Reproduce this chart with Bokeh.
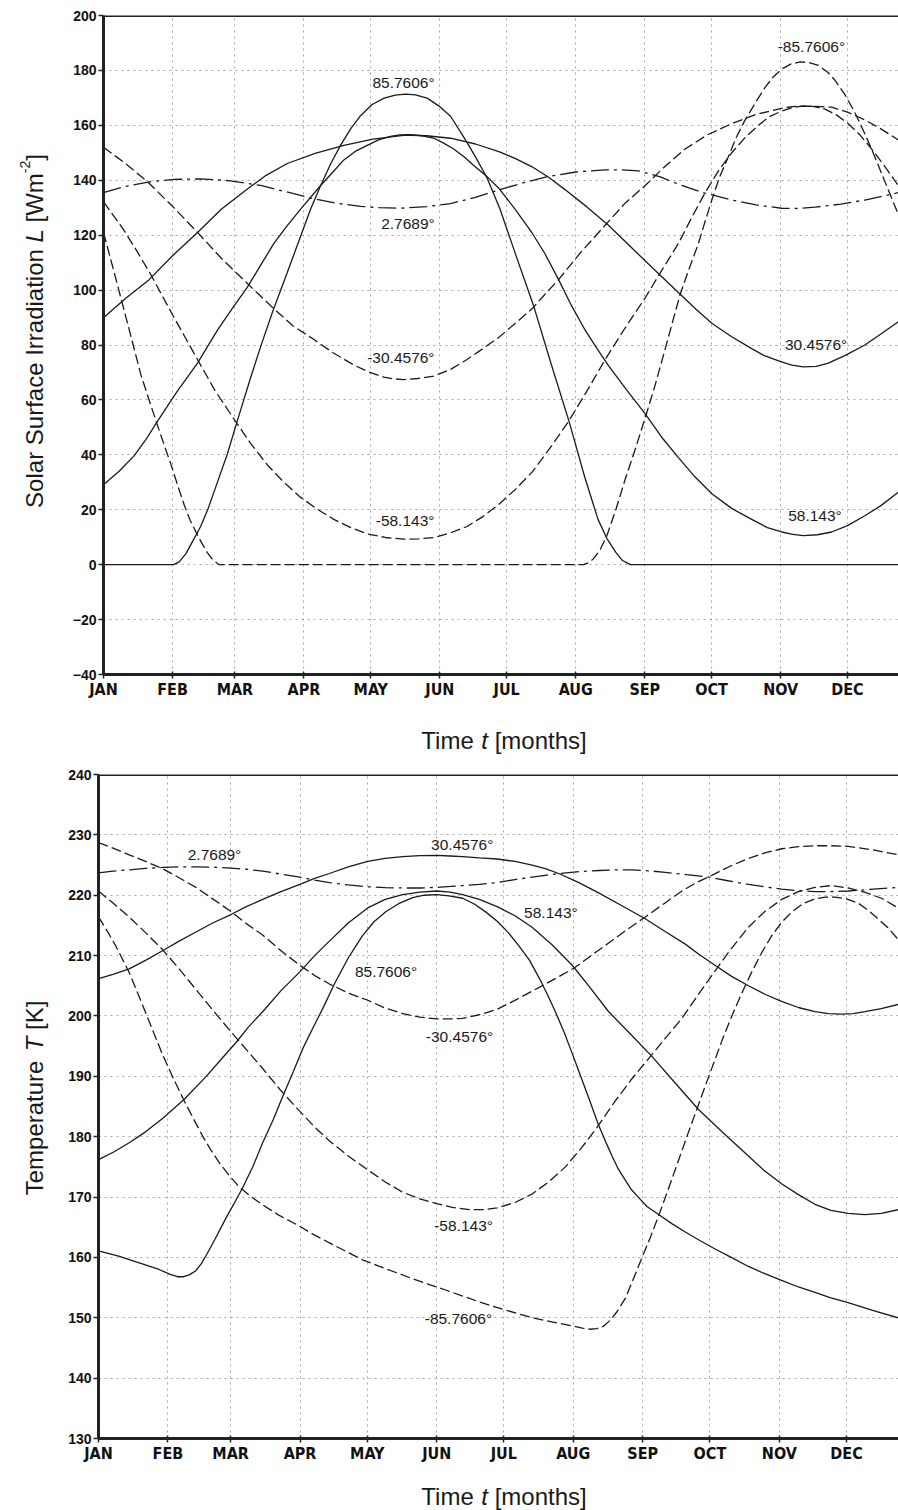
import math
from bokeh.plotting import figure
from bokeh.layouts import column, row
from bokeh.models import Range1d, FixedTicker, Label, Span
from bokeh.embed import file_html
from bokeh.resources import INLINE

# ---------------- data ----------------
MONTH_TICKS = [0, 31, 59, 90, 120, 151, 181, 212, 243, 273, 304, 334]
MONTH_LABELS = ["JAN", "FEB", "MAR", "APR", "MAY", "JUN",
                "JUL", "AUG", "SEP", "OCT", "NOV", "DEC"]
L_TICKS = [-40, -20, 0, 20, 40, 60, 80, 100, 120, 140, 160, 180, 200]
T_TICKS = [130, 140, 150, 160, 170, 180, 190, 200, 210, 220, 230, 240]

# ---- Solar surface irradiation (W m^-2) vs day of year ----
L_N86_day = [0, 31.5, 34, 37, 40, 43.6, 47, 51, 55.6, 60, 66, 71, 76, 82.5, 88.5, 93, 97.5, 102,
             106.4, 111, 115.4, 120.6, 126, 131, 135.6, 140, 145.3, 150.5, 155.8, 162.5, 167, 172.2,
             178, 185, 193, 201, 209, 216, 222, 226, 230, 233, 236.5, 357]
L_N86_val = [0, 0, 1, 4, 8.5, 13.9, 20.5, 29.7, 40.3, 52.2, 68, 80.5, 92.3, 106.4, 119.6, 129.5,
             138.1, 146, 152.7, 158.8, 163.5, 167.6, 169.9, 171.0, 171.4, 171.1, 169.9, 167.1, 163.3,
             154.7, 148.5, 140.8, 129.5, 113, 94.5, 73, 52.2, 32, 16.5, 9.5, 4.5, 1.5, 0, 0]

L_N58_day = [0, 7, 13.8, 19, 24.2, 33, 42.2, 51.1, 58, 64.6, 70.5, 76.5, 82.5, 88.5, 97.5, 103, 107.9,
             113, 118.4, 123.5, 128.8, 133, 137.8, 143, 148.3, 152.5, 157.2, 162, 166.2, 172, 177.8,
             185, 192.4, 198, 204.3, 210, 216.3, 221.5, 226.7, 235, 243.2, 250.5, 258.1, 265.5, 273.1,
             282, 291, 298, 304.5, 309.5, 314.2, 320.5, 326.9, 334, 341.8, 349, 356.8]
L_N58_val = [29.1, 34, 39.7, 45.5, 52.2, 63, 73.4, 85.3, 93.5, 101.1, 109, 117.0, 123.5, 129.5, 138.1,
             143, 147.4, 150.5, 152.7, 154.7, 156.0, 156.5, 156.6, 156.2, 155.3, 153.6, 151.4, 148.5,
             145.4, 141.5, 136.8, 129.2, 120.8, 113.5, 103.8, 94.5, 85.3, 78.8, 72.5, 63.5, 54.9, 46.5,
             39.0, 32, 25.8, 20.5, 16.5, 13.5, 11.9, 11, 10.6, 10.9, 11.9, 14.2, 17.8, 21.5, 26.4]

L_N30_day = [0, 10, 20.5, 31, 42.2, 53, 64.6, 73, 82.5, 95, 107.9, 121, 135.6, 145, 155.8, 167, 177.8,
             185, 192.4, 200, 207.3, 217, 226.7, 237, 247.7, 258.9, 266, 273.1, 282, 291, 297, 303.7,
             309, 314.2, 320, 325.4, 333, 341.8, 349, 356.8]
L_N30_val = [89.9, 97, 103.8, 112.5, 121.0, 129.5, 136.8, 141.8, 146.1, 149.8, 152.7, 155, 156.4,
             156.2, 155.3, 153.2, 150.3, 147.9, 144.9, 141.0, 136.5, 130.3, 123.6, 115.5, 107.1, 98.5,
             93, 87.9, 83, 78.7, 76, 74.0, 72.7, 72.0, 72.2, 73.4, 76.2, 80.0, 84, 88.5]

L_EQ_day = [0, 10, 21.3, 32, 43.6, 57, 70.5, 82, 93, 104, 115.4, 124, 133.3, 145, 155.8, 167, 177.6,
            189, 199.8, 212, 225.2, 233, 240.2, 250, 259.6, 270, 282, 293, 304.5, 312, 319.4, 331,
            341.8, 350, 356.8]
L_EQ_val = [135.5, 137.8, 139.5, 140.3, 140.5, 139.8, 138.1, 135.8, 133.5, 131.7, 130.5, 130, 129.8,
            130.4, 131.5, 133.8, 136.5, 139.2, 141.4, 143, 143.8, 143.8, 143.4, 141.2, 138.1, 135.3,
            132.8, 131, 129.8, 129.7, 130.2, 131.3, 132.8, 134.2, 135.5]

L_S30_day = [0, 10, 19.7, 31, 42.2, 53, 64.6, 76.5, 85, 94.5, 103, 112.4, 119, 125.9, 130, 134.8,
             141, 148.3, 156, 163.2, 170, 177.8, 185, 192.4, 198, 204.3, 214, 225.2, 234, 243.2, 252,
             261.1, 271, 282, 293, 304.5, 309, 314.2, 320, 326.9, 334, 341.8, 349, 356.8]
L_S30_val = [152.0, 146, 139.5, 130.5, 121.0, 111.5, 102.4, 93.2, 87, 82.0, 77.2, 72.7, 70.2, 68.3,
             67.7, 67.4, 67.8, 68.7, 71.2, 74.7, 78.5, 83.0, 88, 93.2, 98.3, 103.8, 113.5, 123.6,
             131.5, 138.1, 145, 151.4, 156.5, 160.6, 164, 166.2, 166.8, 167.0, 166.9, 166.6, 164.8,
             162.0, 158.7, 154.7]

L_S58_day = [0, 9, 15, 21, 26, 31, 36.5, 42, 50, 58.6, 66, 73.5, 81, 88.5, 96, 103.4, 111, 118.4,
             126.5, 134.8, 141.5, 148.3, 155.5, 163.2, 170.5, 177.8, 185, 192.4, 200.5, 208.8, 217,
             225.2, 234, 243.2, 250.5, 258.1, 264, 270.1, 276, 282, 288, 294, 299, 304.5, 309, 313.4,
             318.5, 323.9, 329, 334.4, 339.5, 344.8, 350.8, 356.8]
L_S58_val = [132.2, 122.0, 114.2, 106.0, 98.5, 91.0, 83, 75.0, 63.5, 53.0, 44.2, 36.4, 30, 24.5, 20.2,
             16.5, 13.5, 11.2, 9.9, 9.3, 9.4, 9.9, 11.5, 13.9, 17.6, 22.2, 27.5, 33.7, 42.5, 52.2,
             63.2, 74.7, 86, 97.2, 107, 117.0, 126.3, 135.5, 143.3, 150.0, 155.5, 160.0, 163.2, 165.2,
             166.4, 167.0, 166.9, 165.9, 163.8, 160.6, 156.6, 151.4, 145, 138.1]

L_S86_day = [0, 4.8, 10.8, 16.7, 20.5, 24.2, 27.5, 30.9, 33.5, 36.2, 39, 42.2, 44.5, 46.6, 49, 51.9,
             215.5, 218, 220, 223, 226, 230, 234.2, 238.5, 243.2, 247.5, 252.2, 255.5, 258.9, 263,
             267.1, 270, 273.1, 276.5, 280.6, 284, 288, 292.5, 297, 300.5, 304.5, 308.5, 312.7, 316.5,
             321, 325, 328.4, 333, 337.4, 341, 344.8, 347.8, 350.8, 353.8, 356.8]
L_S86_val = [121.0, 106.4, 87.9, 69.4, 59.9, 50.8, 43, 35.0, 28.4, 21.8, 16, 10.8, 7.3, 4.4, 1.8, 0,
             0, 0.8, 2.2, 5.5, 10.6, 20, 31.1, 41.5, 53.5, 65, 78.7, 88.5, 98.5, 108, 117.0, 124.8,
             132.8, 141, 148.7, 155.5, 161.9, 168, 173.8, 177.5, 180.5, 182.3, 183.1, 182.9, 181.8,
             179.4, 176.4, 171, 164.5, 158.3, 151.4, 145.5, 139.5, 133.5, 127.6]

# ---- Temperature (K) vs day of year ----
T_N86_day = [0, 9, 18.2, 27, 32, 35.3, 38, 40.5, 43.5, 46, 48.5, 52, 56.9, 60.5, 64.3, 69, 73.3, 78,
             82.2, 87, 91.1, 96, 100.5, 105.3, 111.5, 117.9, 123, 128.4, 134, 140.3, 145.5, 151.0,
             156.5, 162.6, 168, 173, 178, 183, 187.7, 192.5, 196.6, 200.5, 204.0, 208, 211.5, 215,
             218.9, 223.3, 226.5, 229.3, 232, 235.2, 238, 241.2, 245, 250.1, 256, 262.0, 268.5, 275.3,
             282.5, 290.2, 297.5, 305.0, 312.5, 319.9, 327, 334.7, 346, 357]
T_N86_val = [161.1, 160.2, 159.1, 158, 157.2, 156.8, 156.8, 157.1, 157.8, 159, 160.6, 163, 166.5,
             168.9, 171.5, 175.1, 179.0, 182.8, 186.6, 190.8, 194.5, 198.2, 201.5, 205.3, 209.6, 213.3,
             215.6, 217.3, 218.6, 219.6, 220, 220.1, 219.9, 219.5, 218.5, 217.2, 215.7, 213.8, 211.6,
             209.2, 206.4, 203.5, 200.7, 197.2, 193.8, 190.3, 186.4, 181.9, 179.1, 176.8, 174.7, 172.8,
             171.2, 169.9, 168.4, 167.1, 165.6, 164.2, 162.8, 161.4, 160, 158.5, 157.3, 156.2, 155.1,
             154.2, 153.3, 152.5, 151.2, 150.0]

T_N58_day = [0, 7, 13.7, 21, 28.6, 38.3, 47.9, 54.5, 61.4, 67, 73.3, 81.5, 89.9, 96.5, 103.1, 111.5,
             120.2, 128, 135.8, 143.5, 151.0, 157, 162.6, 170, 178, 186, 193.6, 202.5, 211.5, 219.5,
             227.8, 237.5, 247.1, 257.5, 267.9, 279, 290.2, 297.5, 305.0, 312.5, 319.9, 327, 334.7,
             342.2, 349.5, 357.0]
T_N58_val = [176.2, 177.5, 179.0, 180.8, 183.0, 186.2, 189.9, 192.7, 195.6, 198.2, 200.7, 204.2, 207.3,
             210, 212.4, 215.4, 217.9, 219.3, 220.1, 220.5, 220.7, 220.5, 220.1, 219.3, 218.1, 216.6,
             214.7, 211.8, 208.4, 204.7, 200.7, 197.0, 193.3, 188.9, 184.5, 180.6, 176.8, 174.3, 172.2,
             170.4, 168.8, 167.8, 167.3, 167.1, 167.3, 167.9]

T_N30_day = [0, 6.5, 13.7, 21, 28.6, 36, 43.5, 51, 59.1, 66, 73.3, 81.5, 89.9, 96.5, 103.1, 111.5,
             120.2, 128, 135.8, 143.5, 151.0, 157, 162.6, 170, 178, 186, 193.6, 199.5, 205.5, 214.5,
             223.3, 233.5, 244.1, 253, 262.0, 268.5, 275.3, 282.5, 290.2, 297.5, 305.0, 312.5, 319.9,
             326, 331.8, 337, 342.2, 349.5, 357.0]
T_N30_val = [206.2, 206.9, 207.8, 209.2, 210.8, 212.4, 213.9, 215.4, 216.8, 218.1, 219.3, 220.6, 221.8,
             222.8, 223.6, 224.7, 225.6, 226.1, 226.4, 226.55, 226.6, 226.5, 226.4, 226.2, 226.0,
             225.6, 225.0, 224.4, 223.6, 222.1, 220.4, 218.3, 216.1, 214.0, 211.9, 210.1, 208.4, 206.6,
             205.0, 203.6, 202.4, 201.4, 200.7, 200.4, 200.3, 200.4, 200.7, 201.2, 201.9]

T_EQ_day = [0, 6.5, 13.7, 21, 28.6, 36, 43.5, 51, 59.1, 66, 73.3, 81.5, 89.9, 96.5, 103.1, 111.5,
            120.2, 128, 135.8, 143.5, 151.0, 157, 162.6, 170, 178, 186, 193.6, 199.5, 205.5, 214.5,
            223.3, 230.5, 238.2, 245.5, 253.0, 262.5, 272.4, 281, 290.2, 297.5, 305.0, 312.5, 319.9,
            327, 334.7, 346, 357.0]
T_EQ_val = [223.7, 224.0, 224.2, 224.45, 224.6, 224.7, 224.7, 224.65, 224.5, 224.3, 224.0, 223.5,
            223.0, 222.5, 222.1, 221.7, 221.4, 221.25, 221.2, 221.2, 221.3, 221.45, 221.6, 221.8,
            222.1, 222.6, 223.0, 223.3, 223.6, 223.9, 224.1, 224.2, 224.2, 224.05, 223.8, 223.4,
            223.0, 222.4, 221.8, 221.4, 221.0, 220.75, 220.6, 220.6, 220.7, 221.0, 221.3]

T_S30_day = [0, 6.5, 13.7, 21, 28.6, 36, 43.5, 51, 59.1, 66, 73.3, 81.5, 89.9, 96.5, 103.1, 111.5,
             120.2, 128, 135.8, 143.5, 151.0, 157, 162.6, 170, 178, 187, 196.6, 204.5, 212.2, 220,
             227.8, 236, 244.1, 252.5, 260.5, 267, 273.8, 282, 290.2, 297.5, 305.0, 312.5, 319.9,
             327, 334.7, 346, 357.0]
T_S30_val = [228.7, 227.8, 226.7, 225.6, 224.4, 222.9, 221.3, 219.4, 217.3, 215.3, 213.4, 210.8,
             208.4, 206.7, 205.3, 203.8, 202.6, 201.3, 200.4, 199.8, 199.5, 199.5, 199.6, 200.2,
             201.1, 202.8, 204.7, 206.3, 207.9, 210, 212.1, 214.3, 216.4, 218.6, 220.7, 222.1, 223.3,
             224.8, 226.1, 227.0, 227.7, 228.05, 228.2, 228.2, 228.1, 227.5, 226.7]

T_S58_day = [0, 6.5, 13.7, 21, 28.6, 36, 43.5, 52.5, 61.4, 67.5, 73.3, 81.5, 89.9, 96.5, 103.1, 111.5,
             120.2, 128, 135.8, 143.5, 151.0, 158, 165.6, 171.5, 178, 186, 193.6, 201, 208.5, 216,
             223.3, 230.5, 238.2, 247.1, 253.5, 260.5, 267, 273.8, 282, 290.2, 297.5, 305.0, 312.5,
             319.9, 327.3, 334.7, 342, 349.6, 357.0]
T_S58_val = [220.7, 218.7, 216.4, 213.8, 211.0, 207.8, 204.4, 200.3, 196.4, 193.8, 191.3, 187.6,
             184.2, 181.6, 179.3, 176.8, 174.5, 172.5, 170.8, 169.7, 168.9, 168.3, 167.9, 167.9,
             168.2, 169.1, 170.5, 172.5, 175.0, 178.3, 181.9, 185.8, 189.6, 193.6, 196.5, 199.6,
             203.1, 206.7, 210.9, 214.7, 217.3, 219.3, 220.6, 221.3, 221.6, 221.2, 220.5, 219.5, 217.9]

T_S86_day = [0, 4, 7.7, 13.7, 17.5, 21.1, 25, 28.6, 33.5, 38.3, 42.5, 46.5, 50, 53.9, 58.5, 62.8, 68,
             73.3, 80.5, 88.2, 95.5, 103.1, 110.5, 117.9, 125.5, 132.8, 140, 147.7, 155, 162.6, 171,
             179.7, 188, 196, 204, 212, 216, 219.5, 222.5, 225.5, 228.5, 231.5, 235.2, 239, 242.6,
             246.5, 250.8, 255, 259, 263, 267.2, 271.5, 275.3, 279, 282.8, 287, 291.7, 296, 300.6, 305,
             309.5, 314.5, 319.9, 324.5, 328.8, 334, 339.2, 344, 348.1, 352.5, 357]
T_S86_val = [216.4, 214.0, 211.6, 207.2, 203.8, 200.5, 196.9, 193.6, 189.6, 185.9, 182.9, 180.1,
             177.9, 175.7, 173.5, 171.7, 170.1, 168.7, 167.0, 165.5, 163.9, 162.4, 161, 159.6, 158.5,
             157.5, 156.5, 155.5, 154.6, 153.6, 152.5, 151.5, 150.6, 149.8, 149.2, 148.6, 148.3,
             148.1, 148.2, 148.6, 149.6, 151.0, 153.2, 156.6, 159.9, 163.4, 167.6, 171.9, 176.1,
             180.3, 184.6, 189, 192.8, 196.5, 200.0, 203.6, 207.3, 210.4, 213.3, 215.5, 217.2, 218.6,
             219.4, 219.7, 219.7, 219.4, 218.7, 217.4, 216.1, 214.6, 212.7]

# curve annotations: (text, day, value)
L_NOTES = [("85.7606°", 134.7, 175.5), ("2.7689°", 136.7, 124.2), ("-30.4576°", 133.5, 75.3),
           ("-58.143°", 135.4, 16.0), ("-85.7606°", 317.8, 188.8), ("30.4576°", 319.9, 80.2),
           ("58.143°", 319.4, 17.8)]
T_NOTES = [("2.7689°", 51.8, 226.7), ("30.4576°", 162.4, 228.4), ("85.7606°", 128.4, 207.3),
           ("-30.4576°", 161.2, 196.6), ("-58.143°", 163.0, 165.3), ("58.143°", 202.0, 217.1),
           ("-85.7606°", 160.7, 149.9)]

# axis titles: list of (text, font style, size px, rise px)
X_TITLE = [("Time ", "normal", 24, 0), ("t", "italic", 24, 0), (" [months]", "normal", 24, 0)]
L_TITLE = [("Solar Surface Irradiation ", "normal", 24, 0), ("L", "italic", 24, 0),
           (" [Wm", "normal", 24, 0), ("-2", "normal", 14, 9), ("]", "normal", 24, 0)]
T_TITLE = [("Temperature ", "normal", 24, 0), ("T", "italic", 24, 0), (" [K]", "normal", 24, 0)]

# ---------------- styling helpers ----------------
INK = "#1a1a1a"
SOLID, DASH, DASHDOT = "solid", "10 4", "18 5 3 5"
TEXT_FONT = "Liberation Sans"
TICK_FONT = "'Liberation Sans Narrow', 'DejaVu Sans Condensed', sans-serif"

ARIAL = {' ': 278, 'T': 611, 'i': 222, 'm': 833, 'e': 556, 't': 278, '[': 278, ']': 278, 'o': 556,
         'n': 556, 'h': 556, 's': 500, 'S': 667, 'l': 222, 'a': 556, 'r': 333, 'u': 556, 'f': 278,
         'c': 500, 'I': 278, 'd': 556, 'L': 556, 'W': 944, '-': 333, '2': 556, 'p': 556, 'K': 667}


def text_width(s, size):
    return sum(ARIAL.get(c, 556) for c in s) * size / 1000.0


def text_fig(width, height):
    f = figure(width=width, height=height, output_backend="svg", toolbar_location=None,
               x_range=Range1d(0, width), y_range=Range1d(0, height),
               x_axis_location=None, y_axis_location=None, min_border=0)
    f.grid.visible = False
    f.outline_line_color = None
    return f


def rich_label(p, x, y, pieces, vertical=False):
    """Anchored at the centre of the baseline; x, y in pixels of the text figure."""
    total = sum(text_width(t, sz) for t, _, sz, _ in pieces)
    pos = -total / 2.0
    for t, style, sz, rise in pieces:
        core = t.strip()
        pos += text_width(t[:len(t) - len(t.lstrip())], sz)
        kw = dict(x=x, y=y, text=core, text_font=TEXT_FONT, text_font_size=f"{sz}px",
                  text_font_style=style, text_color=INK, text_align="left",
                  text_baseline="alphabetic")
        if vertical:
            kw.update(angle=math.pi / 2, y_offset=pos, x_offset=-rise)
        else:
            kw.update(x_offset=pos, y_offset=rise)
        p.add_layout(Label(**kw))
        pos += text_width(t.lstrip(), sz)


def make_fig(width, height, xmax, ymin, ymax, yticks, bl, bt, bb):
    p = figure(width=width, height=height, output_backend="svg", toolbar_location=None,
               x_range=Range1d(0, xmax), y_range=Range1d(ymin, ymax),
               min_border_left=bl, min_border_top=bt, min_border_bottom=bb, min_border_right=0)
    p.outline_line_color = None
    xa, ya = p.xaxis[0], p.yaxis[0]
    xa.ticker = FixedTicker(ticks=MONTH_TICKS)
    xa.major_label_overrides = {t: l for t, l in zip(MONTH_TICKS, MONTH_LABELS)}
    ya.ticker = FixedTicker(ticks=yticks)
    ya.major_label_overrides = {t: (f"\u2212{abs(t)}" if t < 0 else str(t)) for t in yticks}
    for ax in (xa, ya):
        ax.axis_line_width = 3
        ax.axis_line_color = "#222222"
        ax.major_tick_line_color = "#222222"
        ax.major_tick_line_width = 1.5
        ax.minor_tick_line_color = None
        ax.major_label_text_color = "#111111"
        ax.major_label_text_font_style = "bold"
    xa.major_tick_in, xa.major_tick_out = 3, 4
    ya.major_tick_in, ya.major_tick_out = 0, 5
    xa.major_label_text_font = TICK_FONT
    xa.major_label_text_font_size = "16px"
    xa.major_label_standoff = 1
    ya.major_label_text_font = TEXT_FONT
    ya.major_label_text_font_size = "14px"
    ya.major_label_standoff = 2
    for g in (p.xgrid[0], p.ygrid[0]):
        g.grid_line_color = "#a6a6a6"
        g.grid_line_dash = "2 4"
        g.grid_line_width = 1
    p.xgrid[0].ticker = FixedTicker(ticks=MONTH_TICKS)
    p.ygrid[0].ticker = FixedTicker(ticks=yticks)
    p.add_layout(Span(location=ymax, dimension="width", line_color="#222222", line_width=3))
    return p


def draw(p, series, notes):
    for xs, ys, dash in series:
        p.line(xs, ys, line_color=INK, line_width=1.3, line_dash=dash)
    for txt, x, y in notes:
        p.add_layout(Label(x=x, y=y, text=txt, text_font=TEXT_FONT, text_font_size="15.5px",
                           text_color=INK, text_align="center", text_baseline="middle"))


# ---------------- top: irradiation ----------------
p1 = make_fig(830, 704, 356.9, -40, 200, L_TICKS, bl=35, bt=15, bb=30)
draw(p1, [(L_N86_day, L_N86_val, SOLID), (L_N58_day, L_N58_val, SOLID), (L_N30_day, L_N30_val, SOLID),
          (L_EQ_day, L_EQ_val, DASHDOT), (L_S30_day, L_S30_val, DASH), (L_S58_day, L_S58_val, DASH),
          (L_S86_day, L_S86_val, DASH)], L_NOTES)
ylab1 = text_fig(68, 704)
rich_label(ylab1, 33.5, 704 - 337, L_TITLE, vertical=True)
xlab1 = text_fig(898, 64)
rich_label(xlab1, 503.5, 28, X_TITLE)

# ---------------- bottom: temperature ----------------
p2 = make_fig(834, 698, 357.2, 130, 240, T_TICKS, bl=34, bt=6, bb=28)
draw(p2, [(T_N86_day, T_N86_val, SOLID), (T_N58_day, T_N58_val, SOLID), (T_N30_day, T_N30_val, SOLID),
          (T_EQ_day, T_EQ_val, DASHDOT), (T_S30_day, T_S30_val, DASH), (T_S58_day, T_S58_val, DASH),
          (T_S86_day, T_S86_val, DASH)], T_NOTES)
ylab2 = text_fig(64, 698)
rich_label(ylab2, 33.5, 698 - 340, T_TITLE, vertical=True)
xlab2 = text_fig(898, 44)
rich_label(xlab2, 503.5, 14, X_TITLE)

layout = column(row(ylab1, p1), xlab1, row(ylab2, p2), xlab2)
open("out.html", "w").write(file_html(layout, INLINE))
